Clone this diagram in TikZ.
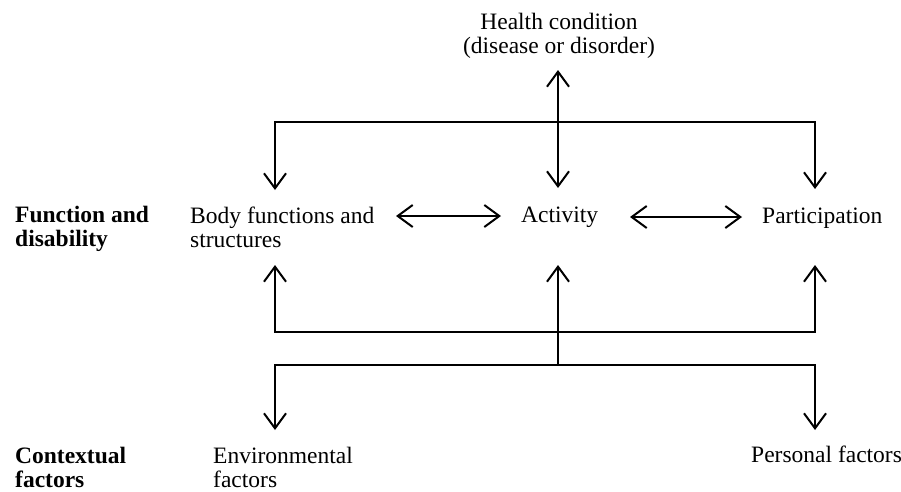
\documentclass[tikz,border=0pt]{standalone}
\usepackage{fontspec}
\setmainfont{Liberation Serif}
\usetikzlibrary{arrows.meta}
\begin{document}
\begin{tikzpicture}[x=1pt,y=-1pt,
  lbl/.style={inner sep=0pt,font=\fontsize{23.5}{24}\selectfont},
  blbl/.style={lbl,font=\fontsize{23.5}{24}\selectfont\bfseries},
  conn/.style={line width=2pt,{Straight Barb[length=15pt,width=22pt,line width=2pt]}-{Straight Barb[length=15pt,width=22pt,line width=2pt]}},
  oneway/.style={line width=2pt,-{Straight Barb[length=15pt,width=22pt,line width=2pt]}}]
\useasboundingbox (0,0) rectangle (901,491);
% texts
\node[lbl,anchor=north,align=center] (hc) at (559,12.5) {Health condition\\(disease or disorder)};
\node[lbl,anchor=north west,align=left] (body) at (190,206.5) {Body functions and\\structures};
\node[lbl,anchor=base west] (act) at (521,222) {Activity};
\node[lbl,anchor=base west] (part) at (762,223) {Participation};
\node[blbl,anchor=north west,align=left] (fd) at (15,205.5) {Function and\\disability};
\node[blbl,anchor=north west,align=left] (cf) at (15,446.5) {Contextual\\factors};
\node[lbl,anchor=north west,align=left] (env) at (213,446.5) {Environmental\\factors};
\node[lbl,anchor=base west] (pers) at (751,462) {Personal factors};
% connector points
\coordinate (hcIn) at (558,70);
\coordinate (actTop) at (558,188);
\coordinate (bodyTop) at (275,190);
\coordinate (partTop) at (815,189);
\coordinate (topL) at (275,122);
\coordinate (topR) at (815,122);
\coordinate (bodyBot) at (275,265);
\coordinate (partBot) at (815,265);
\coordinate (midL) at (275,332);
\coordinate (midR) at (815,332);
\coordinate (actBot) at (558,265);
\coordinate (actFoot) at (558,365);
\coordinate (lowL) at (275,365);
\coordinate (lowR) at (815,365);
\coordinate (envTop) at (275,430);
\coordinate (persTop) at (815,430);
\coordinate (bodyR) at (396,216);
\coordinate (actL) at (501,216);
\coordinate (actR) at (630,217);
\coordinate (partL) at (742,217);
% connectors
\draw[conn] (hcIn) -- (actTop);
\draw[conn] (bodyTop) -- (topL) -- (topR) -- (partTop);
\draw[conn] (bodyBot) -- (midL) -- (midR) -- (partBot);
\draw[oneway] (actFoot) -- (actBot);
\draw[conn] (envTop) -- (lowL) -- (lowR) -- (persTop);
\draw[conn] (bodyR) -- (actL);
\draw[conn] (actR) -- (partL);
\end{tikzpicture}
\end{document}
